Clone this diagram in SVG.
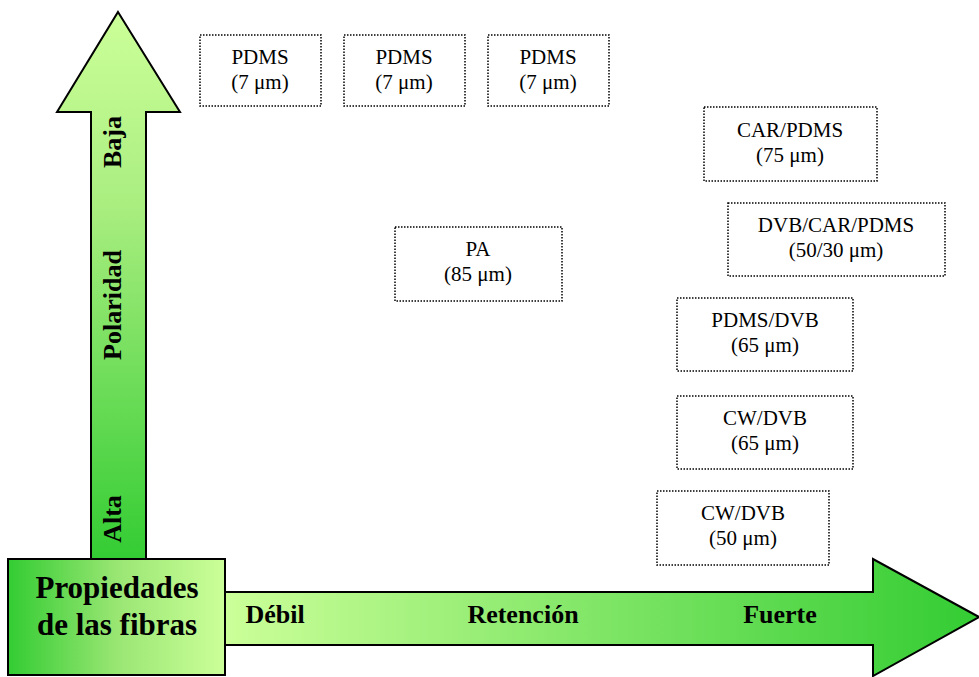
<svg xmlns="http://www.w3.org/2000/svg" width="979" height="677" viewBox="0 0 979 677">
<defs>
<linearGradient id="gv" x1="0" y1="0" x2="0" y2="1"><stop offset="0" stop-color="#ccff99"/><stop offset="0.35" stop-color="#aaee80"/><stop offset="1" stop-color="#33cc33"/></linearGradient>
<linearGradient id="gh" x1="0" y1="0" x2="1" y2="0"><stop offset="0" stop-color="#ccff99"/><stop offset="1" stop-color="#33cc33"/></linearGradient>
<linearGradient id="gb" x1="0" y1="0" x2="1" y2="0"><stop offset="0" stop-color="#33cc33"/><stop offset="0.5" stop-color="#99e673"/><stop offset="1" stop-color="#ccff99"/></linearGradient>
<style>
.box{fill:#fff;stroke:#000;stroke-width:1.5;stroke-dasharray:1.5 1.5}
.t{font-family:'Liberation Serif','Times New Roman',serif;font-size:21px;text-anchor:middle;fill:#000}
.b{font-family:'Liberation Serif','Times New Roman',serif;font-weight:bold;font-size:26px;text-anchor:middle;fill:#000}
.arr{stroke:#000;stroke-width:2}
</style>
</defs>
<g id="connectors">
<path class="arr" fill="url(#gv)" d="M118,12 L180,112 L146,112 L146,560 L91,560 L91,112 L57,112 Z"/>
<path class="arr" fill="url(#gh)" d="M224,592 L873,592 L873,559 L979,617 L873,676 L873,645 L224,645 Z"/>
</g>
<g id="axis-labels">
<text class="b" transform="translate(121,142) rotate(-90)">Baja</text>
<text class="b" transform="translate(121,305) rotate(-90)">Polaridad</text>
<text class="b" transform="translate(121,519) rotate(-90)">Alta</text>
<text class="b" x="275" y="623">Débil</text>
<text class="b" x="523" y="623">Retención</text>
<text class="b" x="780" y="623">Fuerte</text>
</g>
<g id="propiedades">
<rect x="8" y="559" width="217" height="116" fill="url(#gb)" stroke="#000" stroke-width="2"/>
<text class="b" style="font-size:31px" x="117" y="598">Propiedades</text>
<text class="b" style="font-size:31px" x="117" y="635">de las fibras</text>
</g>
<g id="pdms1"><rect class="box" x="200" y="35" width="121" height="71"/><text class="t" x="260" y="64">PDMS</text><text class="t" x="260" y="89">(7 μm)</text></g>
<g id="pdms2"><rect class="box" x="344" y="35" width="121" height="71"/><text class="t" x="404" y="64">PDMS</text><text class="t" x="404" y="89">(7 μm)</text></g>
<g id="pdms3"><rect class="box" x="488" y="35" width="121" height="71"/><text class="t" x="548" y="64">PDMS</text><text class="t" x="548" y="89">(7 μm)</text></g>
<g id="carpdms"><rect class="box" x="704" y="107" width="173" height="74"/><text class="t" x="790" y="137">CAR/PDMS</text><text class="t" x="790" y="162">(75 μm)</text></g>
<g id="dvbcarpdms"><rect class="box" x="728" y="203" width="217" height="73"/><text class="t" x="836" y="232">DVB/CAR/PDMS</text><text class="t" x="836" y="257">(50/30 μm)</text></g>
<g id="pa"><rect class="box" x="395" y="227" width="167" height="74"/><text class="t" x="478" y="256">PA</text><text class="t" x="478" y="281">(85 μm)</text></g>
<g id="pdmsdvb"><rect class="box" x="677" y="298" width="176" height="73"/><text class="t" x="765" y="327">PDMS/DVB</text><text class="t" x="765" y="352">(65 μm)</text></g>
<g id="cwdvb65"><rect class="box" x="677" y="396" width="176" height="73"/><text class="t" x="765" y="425">CW/DVB</text><text class="t" x="765" y="450">(65 μm)</text></g>
<g id="cwdvb50"><rect class="box" x="657" y="491" width="172" height="74"/><text class="t" x="743" y="520">CW/DVB</text><text class="t" x="743" y="545">(50 μm)</text></g>
</svg>
